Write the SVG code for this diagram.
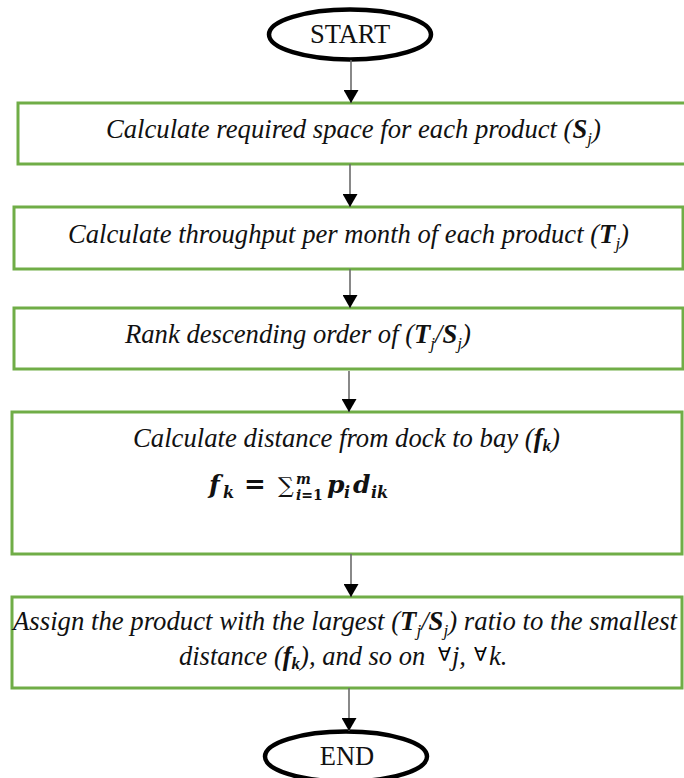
<svg xmlns="http://www.w3.org/2000/svg" width="684" height="778" viewBox="0 0 684 778">
<defs>
<marker id="arr" markerUnits="userSpaceOnUse" markerWidth="15" markerHeight="15" refX="13" refY="7.5" orient="auto"><path d="M0,0 L13,7.5 L0,15 z" fill="#000"/></marker>
<style>
.box{fill:#fff;stroke:#70AD47;stroke-width:3}
.term{fill:#fff;stroke:#000;stroke-width:4.5}
.t{font-family:"Liberation Serif","Times New Roman",serif;font-size:26.5px;fill:#111}
.i{font-style:italic}
.b{font-weight:bold}
.s{font-size:17px}
.m{font-family:"DejaVu Serif","Liberation Serif",serif;font-weight:bold;font-style:italic;fill:#111}
.fa{font-family:"DejaVu Sans",sans-serif;font-style:normal;font-size:19px}
.conn line{stroke:#6b6b6b;stroke-width:1.6;marker-end:url(#arr)}
</style>
</defs>
<rect width="684" height="778" fill="#fff"/>

<g id="start">
<ellipse class="term" cx="350" cy="34.5" rx="81" ry="25"/>
<text class="t" x="350" y="43" text-anchor="middle">START</text>
</g>

<g id="n1">
<rect class="box" x="18" y="103" width="680" height="61"/>
<text class="t i" x="106" y="138" textLength="495" lengthAdjust="spacingAndGlyphs">Calculate required space for each product (<tspan class="b">S</tspan><tspan class="s" dy="6">j</tspan><tspan dy="-6">)</tspan></text>
</g>

<g id="n2">
<rect class="box" x="14" y="207" width="669" height="62"/>
<text class="t i" x="68" y="243" textLength="561" lengthAdjust="spacingAndGlyphs">Calculate throughput per month of each product (<tspan class="b">T</tspan><tspan class="s" dy="6">j</tspan><tspan dy="-6">)</tspan></text>
</g>

<g id="n3">
<rect class="box" x="14" y="308" width="669" height="61"/>
<text class="t i" x="125" y="343" textLength="346" lengthAdjust="spacingAndGlyphs">Rank descending order of (<tspan class="b">T</tspan><tspan class="s" dy="6">j</tspan><tspan dy="-6">/</tspan><tspan class="b">S</tspan><tspan class="s" dy="6">j</tspan><tspan dy="-6">)</tspan></text>
</g>

<g id="n4">
<rect class="box" x="12" y="412" width="670" height="142"/>
<text class="t i" x="133" y="447" textLength="427" lengthAdjust="spacingAndGlyphs">Calculate distance from dock to bay (<tspan class="b">f</tspan><tspan class="s b" dy="4">k</tspan><tspan dy="-4">)</tspan></text>
<g class="m">
<text x="209" y="493" font-size="25">f</text>
<text x="223" y="498" font-size="16">k</text>
<text x="244" y="493" font-size="26" font-style="normal">=</text>
<text x="278" y="493" font-size="22" font-style="normal" font-weight="normal">∑</text>
<text x="296" y="484" font-size="14">m</text>
<text x="296" y="500" font-size="14">i<tspan font-style="normal">=1</tspan></text>
<text x="327" y="493" font-size="25">p</text>
<text x="344" y="498" font-size="16">i</text>
<text x="353" y="493" font-size="25">d</text>
<text x="371" y="498" font-size="16">ik</text>
</g>
</g>

<g id="n5">
<rect class="box" x="12" y="597" width="670" height="91"/>
<text class="t i" x="13" y="630" textLength="664" lengthAdjust="spacingAndGlyphs">Assign the product with the largest (<tspan class="b">T</tspan><tspan class="s" dy="6">j</tspan><tspan dy="-6">/</tspan><tspan class="b">S</tspan><tspan class="s" dy="6">j</tspan><tspan dy="-6">) ratio to the smallest</tspan></text>
<text class="t i" x="179" y="665">distance (<tspan class="b">f</tspan><tspan class="s b" dy="4">k</tspan><tspan dy="-4">), and so on</tspan></text>
<text class="fa" x="438" y="661">∀</text>
<text class="t i" x="452" y="665">j,</text>
<text class="fa" x="474" y="661">∀</text>
<text class="t i" x="489" y="665">k.</text>
</g>

<g id="end">
<ellipse class="term" cx="346" cy="756.5" rx="81" ry="25"/>
<text class="t" x="347" y="765" text-anchor="middle">END</text>
</g>

<g class="conn">
<line x1="351" y1="60" x2="351" y2="103"/>
<line x1="350" y1="164" x2="350" y2="207"/>
<line x1="350" y1="269" x2="350" y2="308"/>
<line x1="349" y1="371" x2="349" y2="412"/>
<line x1="351" y1="554" x2="351" y2="597"/>
<line x1="349" y1="688" x2="349" y2="731"/>
</g>
</svg>
